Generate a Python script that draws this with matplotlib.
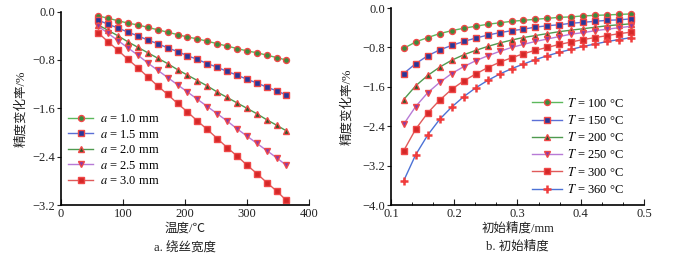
import numpy as np
import matplotlib
matplotlib.use("Agg")
import matplotlib.pyplot as plt
from matplotlib.ticker import AutoMinorLocator

plt.rcParams['font.family'] = ['Liberation Serif', 'Noto Sans CJK SC']
plt.rcParams['mathtext.fontset'] = 'stix'
plt.rcParams['axes.unicode_minus'] = True

# --- data: (a) wire width ---
temp = [60, 76, 92, 108, 124, 140, 156, 172, 188, 204,
        220, 236, 252, 268, 284, 300, 316, 332, 348, 363]
a_labels = ["1.0", "1.5", "2.0", "2.5", "3.0"]
a10 = [-0.07, -0.11, -0.15, -0.19, -0.22, -0.26, -0.30, -0.34, -0.38, -0.42,
       -0.45, -0.49, -0.53, -0.57, -0.61, -0.65, -0.68, -0.72, -0.76, -0.80]
a15 = [-0.14, -0.21, -0.27, -0.34, -0.40, -0.47, -0.53, -0.60, -0.66, -0.73,
       -0.79, -0.86, -0.92, -0.99, -1.05, -1.12, -1.18, -1.25, -1.31, -1.38]
a20 = [-0.22, -0.31, -0.40, -0.50, -0.59, -0.68, -0.77, -0.86, -0.96, -1.05,
       -1.14, -1.23, -1.33, -1.42, -1.51, -1.60, -1.69, -1.79, -1.88, -1.97]
a25 = [-0.24, -0.36, -0.48, -0.60, -0.72, -0.85, -0.97, -1.09, -1.21, -1.33,
       -1.45, -1.57, -1.69, -1.81, -1.94, -2.06, -2.18, -2.30, -2.42, -2.54]
a30 = [-0.35, -0.50, -0.64, -0.79, -0.93, -1.08, -1.23, -1.37, -1.52, -1.66,
       -1.81, -1.95, -2.10, -2.25, -2.39, -2.54, -2.68, -2.83, -2.97, -3.12]

# --- data: (b) initial precision ---
prec = [0.120, 0.139, 0.158, 0.177, 0.196, 0.215, 0.234, 0.253, 0.272, 0.291,
        0.309, 0.328, 0.347, 0.366, 0.385, 0.404, 0.423, 0.442, 0.461, 0.480]
t_labels = ["100", "150", "200", "250", "300", "360"]
t100 = [-0.82, -0.69, -0.60, -0.52, -0.46, -0.41, -0.37, -0.33, -0.30, -0.27,
        -0.25, -0.23, -0.21, -0.19, -0.18, -0.16, -0.15, -0.14, -0.13, -0.12]
t150 = [-1.33, -1.13, -0.97, -0.85, -0.76, -0.68, -0.61, -0.55, -0.50, -0.46,
        -0.43, -0.39, -0.36, -0.34, -0.31, -0.29, -0.27, -0.25, -0.24, -0.22]
t200 = [-1.86, -1.58, -1.37, -1.20, -1.06, -0.95, -0.86, -0.78, -0.71, -0.65,
        -0.60, -0.56, -0.52, -0.48, -0.45, -0.42, -0.39, -0.36, -0.34, -0.32]
t250 = [-2.36, -2.00, -1.72, -1.51, -1.33, -1.19, -1.07, -0.97, -0.88, -0.80,
        -0.74, -0.68, -0.63, -0.58, -0.53, -0.50, -0.46, -0.43, -0.40, -0.37]
t300 = [-2.90, -2.46, -2.13, -1.87, -1.65, -1.48, -1.34, -1.21, -1.10, -1.01,
        -0.93, -0.86, -0.80, -0.74, -0.69, -0.64, -0.60, -0.56, -0.52, -0.49]
t360 = [-3.51, -2.98, -2.58, -2.26, -2.01, -1.80, -1.62, -1.47, -1.34, -1.23,
        -1.14, -1.05, -0.97, -0.90, -0.84, -0.78, -0.73, -0.68, -0.64, -0.60]

# line colour, marker, face colour
edge = "#f04848"
styles = [
    ("#5cb85c", "o", "#3c8c3c"),
    ("#5b6fd6", "s", "#28389a"),
    ("#4f9a4f", "^", "#2c5a2c"),
    ("#b77ad6", "v", "#8a3aa8"),
    ("#e05a5a", "s", "#d42828"),
    ("#4c72d6", "P", "#f03c3c"),
]

fig = plt.figure(figsize=(6.95, 2.65), dpi=100)
ax1 = fig.add_axes([0.0878, 0.2264, 0.3568, 0.7296])
ax2 = fig.add_axes([0.5626, 0.2264, 0.364, 0.7434])

tc = "#222222"
fs = 9
ms = 4.3

for ys, lab, (lc, mk, fc) in zip([a10, a15, a20, a25, a30], a_labels, styles):
    ax1.plot(temp, ys, color=lc, lw=1.0, marker=mk, ms=ms, mfc=fc, mec=edge,
             mew=1.0, label=r"$a$ = " + lab + " mm", clip_on=False)

for i, (ys, lab) in enumerate(zip([t100, t150, t200, t250, t300, t360], t_labels)):
    lc, mk, fc = styles[i]
    if mk == "P":
        ax2.plot(prec, ys, color=lc, lw=1.0, marker="+", ms=5.2, mec=fc, mew=1.8,
                 label=r"$T$ = " + lab + " °C", clip_on=False)
    else:
        ax2.plot(prec, ys, color=lc, lw=1.0, marker=mk, ms=ms, mfc=fc, mec=edge,
                 mew=1.0, label=r"$T$ = " + lab + " °C", clip_on=False)

ax1.set_xlim(0, 400)
ax1.set_ylim(-3.2, 0.0)
ax1.set_xticks([0, 100, 200, 300, 400])
ax1.set_yticks([0.0, -0.8, -1.6, -2.4, -3.2])
ax1.set_yticklabels(["0.0", "\u22120.8", "\u22121.6", "\u22122.4", "\u22123.2"])

ax2.set_xlim(0.1, 0.5)
ax2.set_ylim(-4.0, 0.0)
ax2.set_xticks([0.1, 0.2, 0.3, 0.4, 0.5])
ax2.set_yticks([0.0, -0.8, -1.6, -2.4, -3.2, -4.0])
ax2.set_yticklabels(["0.0", "\u22120.8", "\u22121.6", "\u22122.4", "\u22123.2", "\u22124.0"])
ax2.xaxis.set_minor_locator(AutoMinorLocator(3))

for ax in (ax1, ax2):
    ax.spines["top"].set_visible(False)
    ax.spines["right"].set_visible(False)
    ax.spines["left"].set_linewidth(1.2)
    ax.spines["bottom"].set_linewidth(1.2)
    ax.tick_params(axis="x", direction="in", length=4, width=0.8, labelsize=fs,
                   colors=tc, pad=2)
    ax.tick_params(axis="x", which="minor", direction="in", length=2, width=0.6)
    ax.tick_params(axis="y", direction="out", length=3, width=0.8, labelsize=fs,
                   colors=tc, pad=1)

ax1.set_ylabel("精度变化率/%", fontsize=fs, color=tc, labelpad=4)
ax2.set_ylabel("精度变化率/%", fontsize=fs, color=tc, labelpad=7)
ax1.set_xlabel("温度/℃", fontsize=fs, color=tc, labelpad=2)
ax2.set_xlabel("初始精度/mm", fontsize=fs, color=tc, labelpad=2)
ax1.text(0.5, -0.22, "a. 绕丝宽度", transform=ax1.transAxes, ha="center",
         va="center", fontsize=fs, color=tc)
ax2.text(0.5, -0.213, "b. 初始精度", transform=ax2.transAxes, ha="center",
         va="center", fontsize=fs, color=tc)

ax1.legend(loc="upper left", bbox_to_anchor=(0.03, 0.475), frameon=False,
           fontsize=fs, handlelength=2.0, handletextpad=0.5, labelspacing=0.28,
           borderpad=0, borderaxespad=0)
ax2.legend(loc="upper left", bbox_to_anchor=(0.557, 0.55), frameon=False,
           fontsize=fs, handlelength=2.4, handletextpad=0.4, labelspacing=0.34,
           borderpad=0, borderaxespad=0)

fig.savefig("out.png", dpi=100)
